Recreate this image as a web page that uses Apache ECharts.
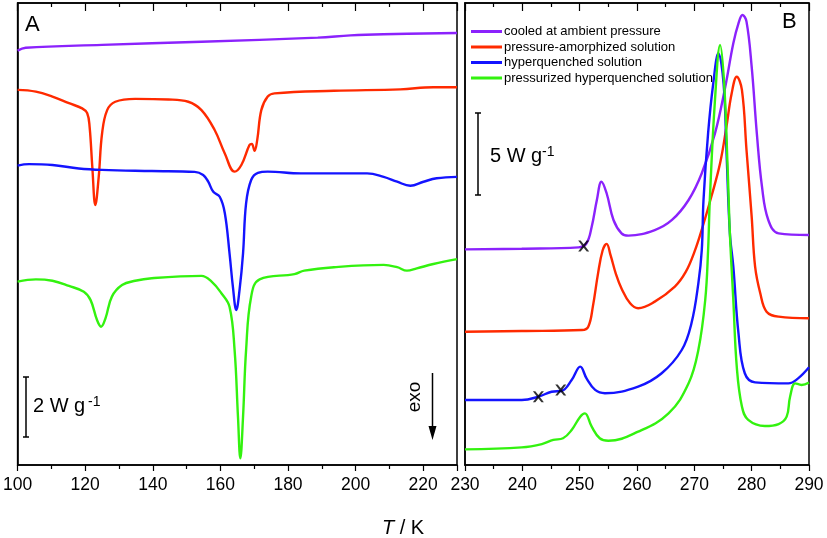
<!DOCTYPE html>
<html>
<head>
<meta charset="utf-8">
<title>DSC scans</title>
<script src="https://cdn.jsdelivr.net/npm/echarts@6/dist/echarts.min.js"></script>
<style>
  html, body { margin: 0; padding: 0; background: #fff; }
  #chart { width: 827px; height: 538px; }
</style>
</head>
<body>
<div id="chart"></div>
<script>
// series names (legend)
var names = ['cooled at ambient pressure', 'pressure-amorphized solution', 'hyperquenched solution', 'pressurized hyperquenched solution']
var colors = ['#8b22fc', '#ff2a00', '#1414ff', '#33f20f']

// panel A, T / K vs heat flow (W/g, offset)
var aPurple = [[100, 14.35], [102.4, 14.45], [125, 14.55], [154.4, 14.66], [188.8, 14.8], [198.5, 14.88], [208.2, 14.92], [230, 14.96]]
var aRed = [[100, 12.99], [105.4, 12.93], [110.3, 12.76], [115.2, 12.53], [119.1, 12.35], [120.6, 12.18], [121.3, 11.72], [122.1, 10.33],
  [123.0, 9.0], [124.0, 9.98], [125.0, 11.49], [126.5, 12.29], [128.9, 12.58], [134.8, 12.68], [144.6, 12.66], [150.5, 12.58],
  [154.4, 12.29], [158.3, 11.6], [161.3, 10.79], [164.2, 10.16], [166.2, 10.39], [168.6, 11.08], [169.3, 11.12], [170.1, 10.88],
  [170.9, 11.26], [172.1, 12.29], [174.0, 12.76], [176.0, 12.87], [193.6, 12.96], [213.2, 13.01], [223.0, 13.08], [230, 13.08]]
var aBlue = [[100, 10.37], [103.4, 10.42], [110.3, 10.39], [118.1, 10.27], [125, 10.22], [139.7, 10.18], [152.4, 10.15], [154.9, 10.04],
  [156.4, 9.81], [157.9, 9.46], [159.8, 9.29], [161.3, 8.73], [162.7, 7.33], [163.7, 6.17], [164.7, 5.37], [165.7, 6.1],
  [166.7, 7.33], [167.6, 9.06], [169.1, 9.87], [171.1, 10.12], [174.0, 10.16], [183.8, 10.1], [203.4, 10.1], [208.3, 9.98],
  [212.3, 9.81], [216.2, 9.67], [220.1, 9.81], [224.0, 9.93], [230, 9.98]]
var aGreen = [[100, 6.35], [105.4, 6.43], [110.3, 6.38], [115.2, 6.2], [119.6, 6.0], [121.6, 5.71], [123.5, 5.02], [124.7, 4.79],
  [126.0, 5.08], [127.9, 5.83], [130.9, 6.23], [134.8, 6.38], [139.7, 6.47], [154.4, 6.55], [157.4, 6.35], [160.3, 5.95],
  [162.7, 5.48], [164.2, 3.98], [165.2, 1.67], [165.9, 0.23], [166.7, 1.67], [167.6, 3.98], [169.1, 5.83], [171.6, 6.43],
  [181.9, 6.61], [184.8, 6.73], [193.6, 6.85], [208.3, 6.93], [212.3, 6.85], [215.2, 6.73], [218.1, 6.81], [223.0, 6.96], [230, 7.13]]

// panel B
var bPurple = [[230, 13.07], [239.9, 13.11], [249.8, 13.19], [251.2, 13.44], [252.1, 14.44], [253.0, 16.06], [253.8, 17.17], [254.7, 16.47],
  [255.9, 14.85], [257.3, 14.04], [258.5, 13.9], [263.1, 14.24], [266.1, 14.85], [269.0, 16.06], [271.3, 17.68], [273.6, 20.1],
  [275.4, 22.93], [276.8, 25.56], [277.7, 26.77], [278.4, 27.27], [279.1, 26.87], [280.0, 24.14], [280.9, 20.1], [281.8, 16.87],
  [282.9, 14.85], [284.7, 14.04], [290, 13.94]]
var bRed = [[230, 8.08], [239.9, 8.12], [250.4, 8.18], [251.5, 8.38], [252.3, 9.6], [253.2, 11.6], [254.0, 13.0], [254.7, 13.4],
  [255.4, 12.7], [256.3, 11.6], [257.3, 10.7], [258.8, 9.8], [260.2, 9.5], [263.1, 9.9], [266.6, 10.81], [268.5, 11.7],
  [270.0, 12.9], [271.5, 14.5], [273.0, 16.3], [274.5, 18.3], [275.6, 20.5], [276.5, 22.5], [277.4, 23.53], [278.3, 22.73],
  [279.1, 19.09], [280.0, 15.05], [280.6, 12.02], [281.5, 10.41], [282.6, 9.29], [284.7, 8.99], [290, 8.89]]
var bBlue = [[230, 3.94], [239.9, 3.94], [242.8, 4.14], [245.1, 4.44], [246.9, 4.5], [248.6, 5.15], [250.1, 5.96], [251.2, 5.25],
  [252.7, 4.55], [254.4, 4.35], [260.2, 4.75], [264.3, 5.56], [267.8, 6.97], [269.5, 8.59], [270.7, 11.01], [271.3, 13.03],
  [271.6, 16.06], [272.4, 20.1], [273.3, 23.13], [274.2, 24.95], [275.1, 23.13], [275.6, 19.09], [276.2, 14.04], [276.8, 12.02],
  [277.7, 7.98], [278.8, 5.56], [280.6, 5.01], [286.4, 4.95], [288.1, 5.25], [290, 5.92]]
var bGreen = [[230, 0.95], [239.9, 1.07], [243.4, 1.27], [245.4, 1.52], [247.1, 1.62], [248.6, 2.12], [250.1, 2.93], [250.9, 3.13],
  [252.1, 2.32], [253.5, 1.62], [255.0, 1.47], [260.2, 2.02], [265.5, 3.13], [269.0, 4.95], [270.7, 6.97], [271.9, 10.0],
  [272.4, 13.03], [272.7, 16.06], [273.6, 22.12], [274.5, 25.45], [275.2, 23.13], [275.8, 18.08], [276.2, 14.04], [276.8, 10.0],
  [277.4, 5.96], [278.3, 3.54], [279.4, 2.73], [282.3, 2.36], [284.7, 2.48], [286.1, 2.93], [286.7, 4.14], [287.6, 4.95],
  [288.7, 4.85], [290, 4.99]]

// onset marks (x)
var marks = [[250.7, 13.27], [242.8, 4.14], [246.7, 4.55]]

var chart = echarts.init(document.getElementById('chart'))
var font = 'Liberation Sans, Arial, sans-serif'
var cross = 'path://M0,0L2.2,0L5,3.4L7.8,0L10,0L6.2,5L10,10L7.8,10L5,6.6L2.2,10L0,10L3.8,5Z'

function xAxes(grid, min, max, interval, hideMax) {
  return [{
    type: 'value', gridIndex: grid, position: 'bottom', min: min, max: max, interval: interval,
    axisLine: { lineStyle: { color: '#000', width: 1.5 } },
    axisTick: { length: 6, lineStyle: { color: '#000', width: 1.2 } },
    minorTick: { show: true, splitNumber: 2, length: 4, lineStyle: { color: '#000', width: 1.2 } },
    splitLine: { show: false },
    axisLabel: { color: '#000', fontSize: 17.5, fontFamily: font, margin: 11, showMaxLabel: !hideMax }
  }, {
    type: 'value', gridIndex: grid, position: 'top', min: min, max: max, interval: interval,
    axisLine: { lineStyle: { color: '#000', width: 1.5 } },
    axisTick: { inside: true, length: 8, lineStyle: { color: '#000', width: 1.2 } },
    minorTick: { show: true, splitNumber: 2, length: 4, lineStyle: { color: '#000', width: 1.2 } },
    splitLine: { show: false },
    axisLabel: { show: false }
  }]
}
function yAxis(grid, max) {
  return {
    type: 'value', gridIndex: grid, min: 0, max: max,
    axisLine: { show: true, lineStyle: { color: '#000', width: 1.5 } },
    axisTick: { show: false }, axisLabel: { show: false }, splitLine: { show: false }
  }
}
function curve(i, xi, yi, data) {
  return {
    name: names[i], type: 'line', xAxisIndex: xi, yAxisIndex: yi, data: data,
    showSymbol: false, symbol: 'none', smooth: 0.4,
    lineStyle: { color: colors[i], width: 2.4 }, itemStyle: { color: colors[i] },
    animation: false
  }
}

var option = {
  animation: false,
  grid: [
    { left: 15, top: 3, width: 442, height: 462, show: true, borderColor: '#000', borderWidth: 1.5 },
    { left: 465, top: 3, width: 344, height: 462, show: true, borderColor: '#000', borderWidth: 1.5 }
  ],
  xAxis: xAxes(0, 100, 230, 20, true).concat(xAxes(1, 230, 290, 10, false)),
  yAxis: [yAxis(0, 16), yAxis(1, 28)],
  legend: {
    orient: 'vertical', left: 471, top: 25, padding: 0, itemGap: 2.5,
    itemWidth: 31, itemHeight: 3, icon: 'rect',
    textStyle: { color: '#000', fontSize: 13, fontFamily: font, padding: [0, 0, 0, -3] },
    data: names
  },
  series: [
    curve(0, 0, 0, aPurple), curve(1, 0, 0, aRed), curve(2, 0, 0, aBlue), curve(3, 0, 0, aGreen),
    curve(0, 2, 1, bPurple), curve(1, 2, 1, bRed), curve(2, 2, 1, bBlue), curve(3, 2, 1, bGreen),
    {
      type: 'scatter', xAxisIndex: 2, yAxisIndex: 1, data: marks, symbol: cross, symbolSize: 11,
      itemStyle: { color: '#000' }, z: 5
    }
  ],
  graphic: [
    { type: 'text', left: 25, top: 14, style: { text: 'A', font: '22px ' + font, fill: '#000' } },
    { type: 'text', left: 782, top: 11, style: { text: 'B', font: '22px ' + font, fill: '#000' } },
    // 2 W/g scale bar
    { type: 'line', shape: { x1: 26, y1: 377, x2: 26, y2: 437 }, style: { stroke: '#000', lineWidth: 1.5 } },
    { type: 'line', shape: { x1: 23, y1: 377, x2: 29, y2: 377 }, style: { stroke: '#000', lineWidth: 1.5 } },
    { type: 'line', shape: { x1: 23, y1: 437, x2: 29, y2: 437 }, style: { stroke: '#000', lineWidth: 1.5 } },
    { type: 'text', x: 33, y: 416, style: { text: '2 W g', font: '20px ' + font, fill: '#000', textVerticalAlign: 'bottom' } },
    { type: 'text', x: 88, y: 409, style: { text: '-1', font: '14px ' + font, fill: '#000', textVerticalAlign: 'bottom' } },
    // 5 W/g scale bar
    { type: 'line', shape: { x1: 478, y1: 113, x2: 478, y2: 195 }, style: { stroke: '#000', lineWidth: 1.5 } },
    { type: 'line', shape: { x1: 475, y1: 113, x2: 481, y2: 113 }, style: { stroke: '#000', lineWidth: 1.5 } },
    { type: 'line', shape: { x1: 475, y1: 195, x2: 481, y2: 195 }, style: { stroke: '#000', lineWidth: 1.5 } },
    { type: 'text', x: 490, y: 166, style: { text: '5 W g', font: '20px ' + font, fill: '#000', textVerticalAlign: 'bottom' } },
    { type: 'text', x: 542, y: 159, style: { text: '-1', font: '14px ' + font, fill: '#000', textVerticalAlign: 'bottom' } },
    // exo arrow
    { type: 'text', x: 415, y: 397, rotation: Math.PI / 2,
      style: { text: 'exo', font: '19px ' + font, fill: '#000', textAlign: 'center', textVerticalAlign: 'middle' } },
    { type: 'line', shape: { x1: 432.5, y1: 373, x2: 432.5, y2: 430 }, style: { stroke: '#000', lineWidth: 1.5 } },
    { type: 'polygon', shape: { points: [[428.5, 426], [436.5, 426], [432.5, 440]] }, style: { fill: '#000' } },
    // axis title
    { type: 'text', x: 403, y: 528,
      style: { text: '{i|T} / K', textAlign: 'center', textVerticalAlign: 'middle', font: '20px ' + font, fill: '#000',
        rich: { i: { fontStyle: 'italic', fontSize: 20, fontFamily: font, fill: '#000' } } } }
  ]
}
chart.setOption(option)
</script>
</body>
</html>
